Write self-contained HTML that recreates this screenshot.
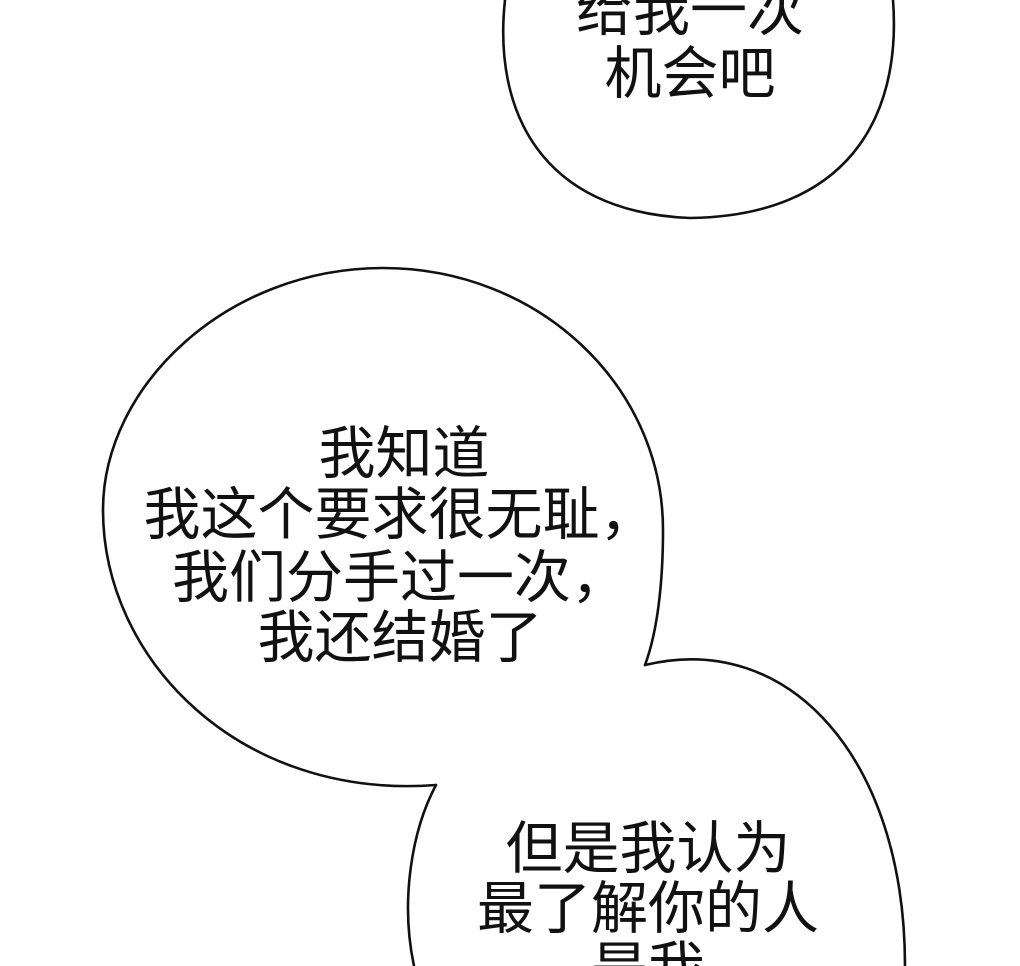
<!DOCTYPE html>
<html><head><meta charset="utf-8"><style>
html,body{margin:0;padding:0;background:#fff;}
svg{display:block;}
text{font-family:"Liberation Sans","Noto Sans CJK SC",sans-serif;font-size:57px;fill:#111;text-anchor:middle;}
</style></head><body>
<svg width="1020" height="966" viewBox="0 0 1020 966" xmlns="http://www.w3.org/2000/svg">
<g fill="none" stroke="#111" stroke-width="2.6" stroke-linecap="round" stroke-linejoin="round">
<path d="M505,0 C493,110 540,212 690,218 C845,216 902,120 893,0"/>
<path d="M645,665 C658,630 663,580 663,530 C663,385 538,268 383,268 C228,268 103,385 103,510 C103,660 240,800 436,785"/>
<path d="M436,785 C412,830 400,900 414,966"/>
<path d="M645,665 C790,630 905,760 905,966"/>
</g>
<text x="690" y="30">给我一次</text>
<text x="690" y="93">机会吧</text>
<text x="404" y="473">我知道</text>
<text x="400" y="534">我这个要求很无耻，</text>
<text x="400" y="597">我们分手过一次，</text>
<text x="400" y="657">我还结婚了</text>
<text x="648" y="868">但是我认为</text>
<text x="648" y="928">最了解你的人</text>
<text x="648" y="988">是我</text>
</svg>
</body></html>
